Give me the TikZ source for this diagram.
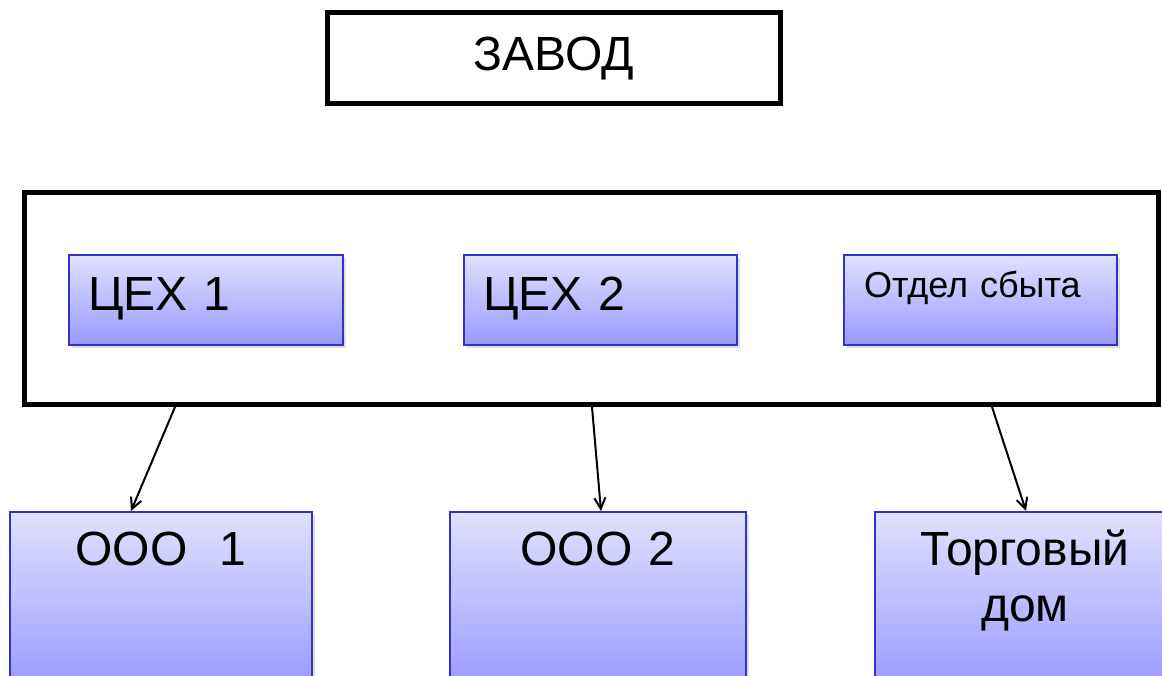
\documentclass[tikz,border=0pt]{standalone}
\usepackage{fontspec}
\setmainfont{Liberation Sans}[WordSpace=0.6]
\usepackage{tikz}
\usetikzlibrary{arrows.meta,shapes,positioning,shadows}
\definecolor{unitedge}{RGB}{50,50,200}
\tikzset{
  basic/.style   = {rectangle, inner ysep=0pt, font=\fontsize{48}{56}\selectfont},
  frame/.style   = {basic, draw, line width=5pt, fill=white},
  unit/.style    = {basic, draw=unitedge, line width=2pt, top color=blue!12, bottom color=blue!40,
                    drop shadow={shadow xshift=3pt, shadow yshift=-3pt, opacity=0.25}},
  level 2/.style = {unit, align=left, inner xsep=19pt, minimum height=90pt, text height=35pt, text depth=15pt},
  level 3/.style = {unit, align=center, inner xsep=10pt, minimum height=178pt, text height=35pt, text depth=107pt},
  arr/.style     = {-{Straight Barb[length=11pt,width=11pt]}, line width=2pt}
}
\begin{document}
\begin{tikzpicture}[x=1pt, y=-1pt]
\useasboundingbox (0,0) rectangle (1162,675);
\clip (0,0) rectangle (1162,675);

% the plant and the frame round its units
\node[frame, minimum width=453pt, minimum height=91pt, text height=35pt, text depth=11pt] (zavod) at (554,58) {ЗАВОД};
\node[frame, minimum width=1134pt, minimum height=212pt] (frame) at (591.5,298.5) {};

% units inside the frame, relatively positioned
\node[level 2, text width=236pt] (c1) at (206,300) {ЦЕХ 1};
\node[level 2, text width=235pt, right=119pt of c1] (c2) {ЦЕХ 2};
\node[level 2, text width=233pt, inner xsep=20pt, right=105pt of c2,
      font=\fontsize{36}{42}\selectfont, text height=25pt, text depth=31pt] (c3) {Отдел сбыта};

% the firms below
\node[level 3, text width=282pt] (o1) at (161,601) {ООО\ \ 1};
\node[level 3, text width=276pt, right=136pt of o1] (o2) {ООО 2};
\node[level 3, text width=280pt, right=127pt of o2] (o3) {Торговый\\дом};

% connectors
\draw[arr] ([xshift=-416.5pt]frame.south) -- ([xshift=-30pt]o1.north);
\draw[arr] ([xshift=0.5pt]frame.south) -- ([xshift=3pt]o2.north);
\draw[arr] ([xshift=400.5pt]frame.south) -- ([xshift=1pt]o3.north);
\end{tikzpicture}
\end{document}
